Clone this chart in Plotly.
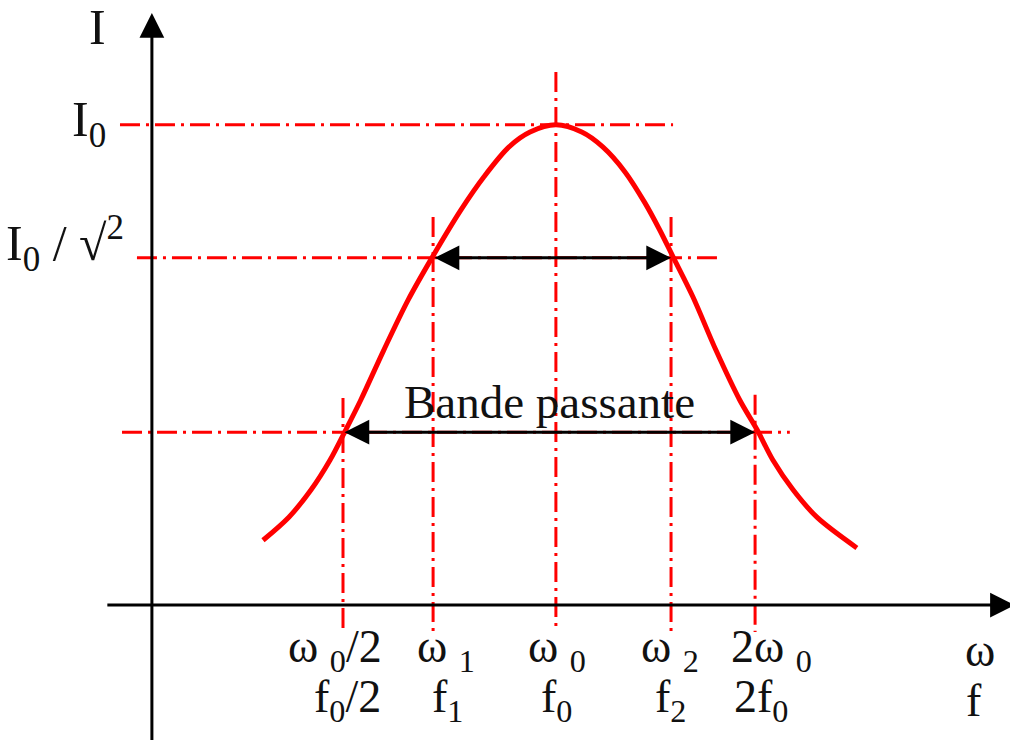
import plotly.graph_objects as go

# Schematic series-resonance curve.
# Frequency is expressed in units of the resonance (ω0 = 1),
# current in units of the peak value (I0 = 1).
omega_ticks = [0.473, 0.696, 1.0, 1.285, 1.493]
omega_labels = ["ω <sub>0</sub>/2", "ω <sub>1</sub>", "ω <sub>0</sub>", "ω <sub>2</sub>", "2ω <sub>0</sub>"]
freq_labels = ["f<sub>0</sub>/2", "f<sub>1</sub>", "f<sub>0</sub>", "f<sub>2</sub>", "2f<sub>0</sub>"]

level_I0 = 1.0
level_cut = 0.723     # I0 / sqrt(2)
level_band = 0.360

# Hand-traced points of the response curve
curve_x = [0.275, 0.339, 0.394, 0.441, 0.480, 0.517, 0.574, 0.634, 0.693, 0.765,
           0.822, 0.884, 0.936, 1.0, 1.064, 1.116, 1.171, 1.220, 1.257, 1.290,
           1.339, 1.396, 1.455, 1.498, 1.537, 1.587, 1.646, 1.745]
curve_y = [0.135, 0.183, 0.240, 0.302, 0.365, 0.427, 0.531, 0.635, 0.723, 0.823,
           0.892, 0.954, 0.985, 1.0, 0.985, 0.954, 0.902, 0.838, 0.781, 0.725,
           0.642, 0.531, 0.427, 0.365, 0.302, 0.240, 0.183, 0.119]

# Dash-dot guide lines
h_levels = [level_I0, level_cut, level_band]
h_start = [-0.079, -0.037, -0.074]
h_end = [1.290, 1.401, 1.579]
v_top = [0.431, 0.808, 1.110, 0.808, 0.438]
v_bottom = -0.056

# Axis extents
x_axis_start, x_axis_tip = -0.114, 2.136
y_axis_bottom, y_axis_tip = -0.285, 1.233

RED = "#ff0000"
DASHDOT = "20px,6px,3px,6px"
FONT = dict(family="Liberation Serif, Times New Roman, serif", size=46, color="#111111")

fig = go.Figure()

for lvl, x0, x1 in zip(h_levels, h_start, h_end):
    fig.add_trace(go.Scatter(x=[x0, x1], y=[lvl, lvl], mode="lines",
                             line=dict(color=RED, width=3, dash=DASHDOT),
                             hoverinfo="skip"))

for xt, yt in zip(omega_ticks, v_top):
    fig.add_trace(go.Scatter(x=[xt, xt], y=[yt, v_bottom], mode="lines",
                             line=dict(color=RED, width=3, dash=DASHDOT),
                             hoverinfo="skip"))

fig.add_trace(go.Scatter(x=curve_x, y=curve_y, mode="lines",
                         line=dict(color=RED, width=5, shape="spline", smoothing=0.9),
                         hoverinfo="skip"))

annotations = []

def arrow(x0, y0, x1, y1, both=False):
    return dict(x=x1, y=y1, ax=x0, ay=y0, xref="x", yref="y", axref="x", ayref="y",
                text="", showarrow=True, arrowhead=2, startarrowhead=2,
                arrowside="end+start" if both else "end",
                arrowsize=1.65, startarrowsize=1.65, arrowwidth=3,
                arrowcolor="black", standoff=0, startstandoff=0)

# Axes with arrow tips
annotations.append(arrow(0, y_axis_bottom, 0, y_axis_tip))
annotations.append(arrow(x_axis_start, 0, x_axis_tip, 0))

# Bandwidth arrows
annotations.append(arrow(omega_ticks[1], level_cut, omega_ticks[3], level_cut, both=True))
annotations.append(arrow(omega_ticks[0], level_band, omega_ticks[4], level_band, both=True))

def label(text, x, y, xanchor="center", xshift=0, yshift=0, size=None):
    f = dict(FONT)
    if size:
        f["size"] = size
    return dict(text=text, x=x, y=y, xref="x", yref="y", showarrow=False,
                xanchor=xanchor, yanchor="middle", xshift=xshift, yshift=yshift, font=f)

annotations.append(label("Bande passante", 0.985, level_band, yshift=30, size=47))

omega_shift = [-8, 13, 1, -1, 16]
freq_shift = [4, 14, 1, -1, 6]
for xt, wl, fl, ws, fs in zip(omega_ticks, omega_labels, freq_labels, omega_shift, freq_shift):
    annotations.append(label(wl, xt, 0, xshift=ws, yshift=-45))
    annotations.append(label(fl, xt, 0, xshift=fs, yshift=-95))

annotations.append(label("ω", 2.05, 0, yshift=-45))
annotations.append(label("f", 2.035, 0, yshift=-95))

annotations.append(label("I", 0, y_axis_tip, xanchor="right", xshift=-44, yshift=-14, size=50))
annotations.append(label("I<sub>0</sub>", 0, level_I0, xanchor="right", xshift=-44, yshift=2, size=50))
annotations.append(label("I<sub>0</sub> / √<sup>2</sup>", 0, level_cut, xanchor="right", xshift=-26, yshift=14, size=50))

fig.update_layout(
    width=1010, height=740,
    margin=dict(l=0, r=0, t=0, b=0),
    paper_bgcolor="white", plot_bgcolor="white",
    showlegend=False,
    xaxis=dict(range=[-0.376, 2.124], visible=False, fixedrange=True),
    yaxis=dict(range=[-0.281, 1.260], visible=False, fixedrange=True),
    annotations=annotations,
)

fig.write_html("out.html")
